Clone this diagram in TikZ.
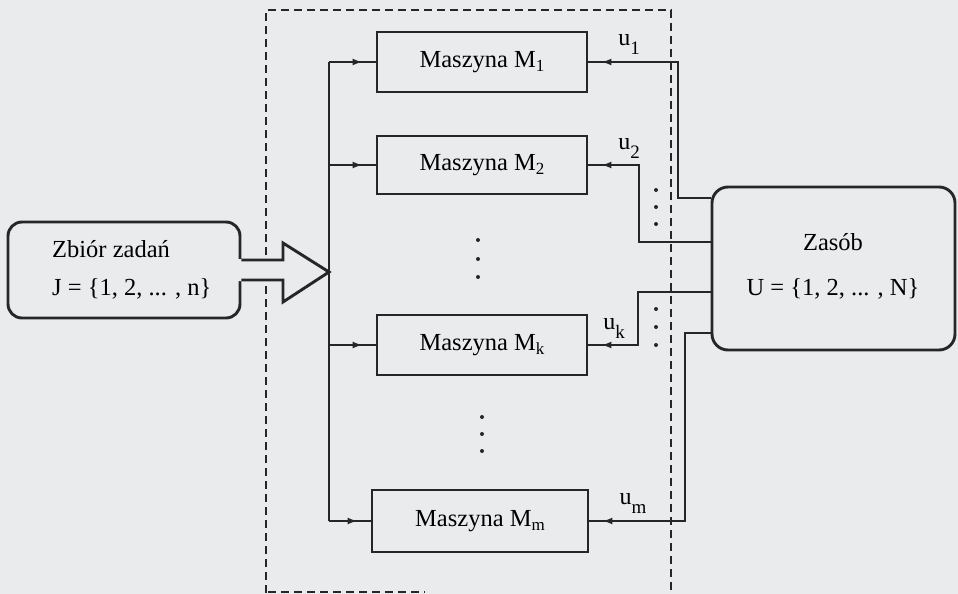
\documentclass[tikz,border=0pt]{standalone}
\usepackage{fontspec}
\setmainfont{Liberation Serif}
\usetikzlibrary{arrows.meta,decorations.markings}
\definecolor{bg}{RGB}{233,235,236}
\definecolor{ink}{RGB}{38,38,38}
\newcommand{\msub}[1]{\raisebox{-4pt}{\fontsize{17}{17}\selectfont #1}}
\newcommand{\usub}[1]{\raisebox{-9pt}{\fontsize{19}{19}\selectfont #1}}
\begin{document}
\begin{tikzpicture}[x=1pt,y=-1pt,
  machine/.style={draw=ink, line width=2.9pt, minimum width=210pt, minimum height=60pt, inner sep=0pt, font=\fontsize{24.5}{28}\selectfont},
  rbox/.style={draw=ink, line width=2.9pt, rounded corners=14pt, inner sep=0pt},
  txt/.style={font=\fontsize{24.5}{28}\selectfont, inner sep=0pt},
  ulab/.style={font=\fontsize{24}{28}\selectfont, inner sep=0pt},
  conn/.style={draw=ink, line width=2.3pt},
  tipend/.style={postaction={decorate}, decoration={markings, mark=at position -13pt with {\arrow{Latex[length=10pt,width=7pt]}}}},
  dot/.style={circle, fill=ink, inner sep=0pt, minimum size=4pt},
  frame/.style={draw=ink, line width=1.4pt, dash pattern=on 8pt off 5pt}
]
\useasboundingbox[fill=bg] (0,0) rectangle (958,594);

% dashed frame
\draw[frame] (266,593) -- (266,10) -- (671,10) -- (671,594);
\draw[frame] (268,592) -- (425,592);

% machines
\node[machine] (m1) at (482,62) {Maszyna M\msub{1}};
\node[machine, minimum height=58pt] (m2) at (482,165) {Maszyna M\msub{2}};
\node[machine] (mk) at (482,345) {Maszyna M\msub{k}};
\node[machine, minimum width=216pt, minimum height=62pt] (mm) at (480,521) {Maszyna M\msub{m}};

% task set
\node[rbox, minimum width=232pt, minimum height=96pt] (zb) at (124,270) {};
\node[txt, anchor=base west] (zbt1) at (52,257) {Zbiór zadań};
\node[txt, anchor=base west] (zbt2) at (52,295) {J = \{1, 2, ... , n\}};

% resource
\node[rbox, rounded corners=16pt, minimum width=243pt, minimum height=163pt] (zs) at (833.5,268.5) {};
\node[txt, anchor=base] (zst1) at (833,250) {Zasób};
\node[txt, anchor=base] (zst2) at (833,295) {U = \{1, 2, ... , N\}};

% bus
\coordinate (bus) at (329,0);
\draw[conn] (bus |- m1.west) -- (bus |- mm.west);
\foreach \m in {m1,m2,mk,mm}
  \draw[conn,tipend] (bus |- \m.west) -- (\m.west);

% big arrow
\fill[bg] (236,259) -- (283,259) -- (283,243) -- (330,272) -- (283,302) -- (283,281) -- (236,281) -- cycle;
\draw[draw=ink, line width=2.9pt, line join=miter] (zb.east |- 0,260) -- (283,260) -- (283,243) -- (bus |- 0,272) -- (283,302) -- (283,280) -- (zb.east |- 0,280);

% resource connectors
\draw[conn,tipend] (zs.west |- 0,198) -| (678,0 |- m1.east) -- (m1.east);
\draw[conn,tipend] (zs.west |- 0,242) -| (639,0 |- m2.east) -- (m2.east);
\draw[conn,tipend] (zs.west |- 0,292) -| (638,0 |- mk.east) -- (mk.east);
\draw[conn,tipend] (zs.west |- 0,333) -| (685,0 |- mm.east) -- (mm.east);

% labels
\node[ulab] (u1) at (629,44) {u\usub{1}};
\node[ulab] (u2) at (629,148) {u\usub{2}};
\node[ulab] (uk) at (614,328) {u\usub{k}};
\node[ulab] (um) at (633,503) {u\usub{m}};

% dots
\foreach \y in {240,259,277} \node[dot] at (478,\y) {};
\foreach \y in {417,434,451} \node[dot] at (482,\y) {};
\foreach \y in {190,207,224} \node[dot] at (656,\y) {};
\foreach \y in {309,327,345} \node[dot] at (656,\y) {};
\end{tikzpicture}
\end{document}
